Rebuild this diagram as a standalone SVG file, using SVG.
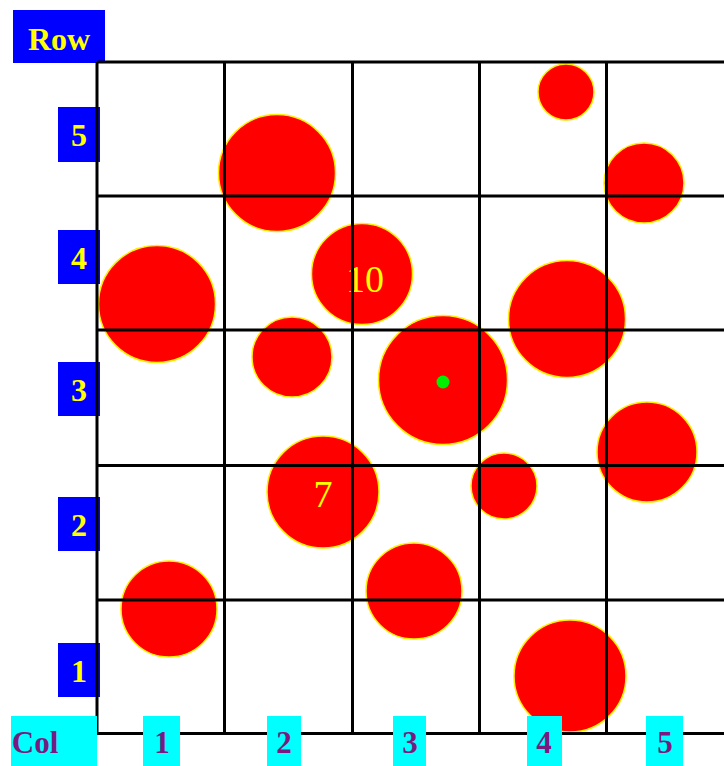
<svg xmlns="http://www.w3.org/2000/svg" width="724" height="766" viewBox="0 0 724 766">
<style>
.c{fill:#ff0000;stroke:#ffee00;stroke-width:1.5}
.g{stroke:#000;stroke-width:3;fill:none}
.rb{fill:#0000ff}
.cb{fill:#00ffff}
.rt{font-family:"Liberation Serif",serif;font-weight:bold;font-size:32px;fill:#ffff00;text-anchor:middle}
.ct{font-family:"Liberation Serif",serif;font-weight:bold;font-size:31px;fill:#7a1a80;text-anchor:middle}
.nt{font-family:"Liberation Serif",serif;font-size:38px;fill:#ffff00;text-anchor:middle}
</style>
<rect width="724" height="766" fill="#fff"/>
<g id="circles">
<g id="c1"><circle class="c" cx="566" cy="92" r="28"/></g>
<g id="c2"><circle class="c" cx="277" cy="173" r="58.5"/></g>
<g id="c3"><circle class="c" cx="644" cy="183" r="40"/></g>
<g id="c4"><circle class="c" cx="157" cy="304" r="58.5"/></g>
<g id="c5"><circle class="c" cx="362" cy="274" r="50.5"/><text class="nt" x="365" y="292">10</text></g>
<g id="c6"><circle class="c" cx="292" cy="357" r="40"/></g>
<g id="c7"><circle class="c" cx="567" cy="319" r="58.5"/></g>
<g id="c8"><circle class="c" cx="443" cy="380" r="64.5"/><circle cx="443" cy="382" r="6.5" fill="#00ee00"/></g>
<g id="c9"><circle class="c" cx="647" cy="452" r="50"/></g>
<g id="c10"><circle class="c" cx="504" cy="486" r="33"/></g>
<g id="c11"><circle class="c" cx="323" cy="492" r="56"/><text class="nt" x="323" y="507">7</text></g>
<g id="c12"><circle class="c" cx="169" cy="609" r="48"/></g>
<g id="c13"><circle class="c" cx="414" cy="591" r="48"/></g>
<g id="c14"><circle class="c" cx="570" cy="676" r="56"/></g>
</g>
<g id="rowlabels">
<g id="rowhdr"><rect class="rb" x="13" y="10" width="92" height="53"/><text class="rt" x="59" y="50">Row</text></g>
<g id="row5"><rect class="rb" x="58" y="107" width="42" height="55"/><text class="rt" x="79" y="146">5</text></g>
<g id="row4"><rect class="rb" x="58" y="230" width="42" height="54"/><text class="rt" x="79" y="269">4</text></g>
<g id="row3"><rect class="rb" x="58" y="362" width="42" height="54"/><text class="rt" x="79" y="401">3</text></g>
<g id="row2"><rect class="rb" x="58" y="497" width="42" height="54"/><text class="rt" x="79" y="536">2</text></g>
<g id="row1"><rect class="rb" x="58" y="643" width="42" height="54"/><text class="rt" x="79" y="682">1</text></g>
</g>
<g id="grid" class="g">
<path d="M97 62H724M97 196H724M97 330H724M97 465.5H724M97 600H724M97 733.5H724"/>
<path d="M97 62V735M224.5 62V733M352.5 62V733M479.5 62V733M606.5 62V733"/>
</g>
<g id="collabels">
<g id="colhdr"><rect class="cb" x="11" y="716" width="86" height="50"/><text class="ct" x="35" y="753">Col</text></g>
<g id="col1"><rect class="cb" x="143" y="716" width="37" height="50"/><text class="ct" x="162" y="753">1</text></g>
<g id="col2"><rect class="cb" x="267" y="716" width="34" height="50"/><text class="ct" x="284" y="753">2</text></g>
<g id="col3"><rect class="cb" x="393" y="716" width="33" height="50"/><text class="ct" x="410" y="753">3</text></g>
<g id="col4"><rect class="cb" x="527" y="716" width="35" height="50"/><text class="ct" x="544" y="753">4</text></g>
<g id="col5"><rect class="cb" x="646" y="716" width="37" height="50"/><text class="ct" x="665" y="753">5</text></g>
</g>
</svg>
